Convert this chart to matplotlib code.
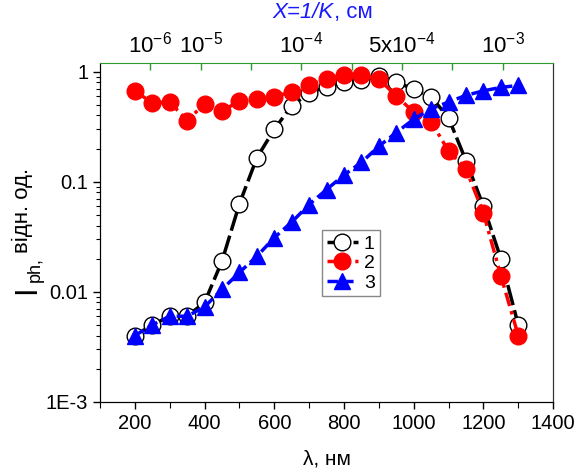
import matplotlib
matplotlib.use('Agg')
import matplotlib.pyplot as plt
from matplotlib.ticker import FixedLocator, NullFormatter, LogLocator, MultipleLocator

plt.rcParams['font.family'] = ['Liberation Sans', 'DejaVu Sans']
plt.rcParams['mathtext.fontset'] = 'custom'
plt.rcParams['mathtext.rm'] = 'Liberation Sans'
plt.rcParams['mathtext.it'] = 'Liberation Sans:italic'

# wavelength, nm
wavelength = [200, 250, 300, 350, 400, 450, 500, 550, 600, 650, 700, 750,
              800, 850, 900, 950, 1000, 1050, 1100, 1150, 1200, 1250, 1300]

curve1 = [0.004, 0.005, 0.006, 0.006, 0.008, 0.019, 0.063, 0.165, 0.30, 0.49,
          0.64, 0.73, 0.80, 0.84, 0.92, 0.81, 0.69, 0.59, 0.38, 0.155, 0.06,
          0.02, 0.005]
curve2 = [0.67, 0.52, 0.53, 0.36, 0.51, 0.44, 0.54, 0.56, 0.59, 0.66, 0.76,
          0.85, 0.94, 0.93, 0.86, 0.60, 0.43, 0.35, 0.19, 0.13, 0.052, 0.014,
          0.004]
curve3 = [0.004, 0.005, 0.006, 0.006, 0.0073, 0.0105, 0.015, 0.021, 0.031,
          0.043, 0.062, 0.085, 0.115, 0.15, 0.21, 0.28, 0.37, 0.46, 0.53, 0.61,
          0.67, 0.72, 0.75]

# top axis (absorption depth), positions on its own 0..9 scale
top_ticks = [1, 2, 3, 4, 5, 6, 7, 8]
top_labels = [r'$\mathregular{10^{-6}}$', r'$\mathregular{10^{-5}}$', '',
              r'$\mathregular{10^{-4}}$', '', r'$\mathregular{5x10^{-4}}$', '',
              r'$\mathregular{10^{-3}}$']

fig = plt.figure(figsize=(5.78, 4.70), dpi=100)
ax = fig.add_axes([0.173, 0.145, 0.784, 0.721])

ax.plot(wavelength, curve1, color='black', lw=2.5, ls=(0, (6, 1.5)),
        marker='o', ms=12, mfc='white', mec='black', mew=1.0, label='1', zorder=2)
ax.plot(wavelength, curve2, color='red', lw=2.5, ls=(0, (4, 1.5, 1, 1.5)),
        marker='o', ms=12, mfc='red', mec='red', label='2', zorder=3)
ax.plot(wavelength, curve3, color='blue', lw=2.5, ls=(0, (3, 1.5)),
        marker='^', ms=12, mfc='blue', mec='blue', label='3', zorder=4)

ax.set_yscale('log')
ax.set_ylim(1e-3, 1.2)
ax.set_xlim(100, 1400)
ax.xaxis.set_major_locator(MultipleLocator(200))
ax.xaxis.set_minor_locator(MultipleLocator(100))
ax.yaxis.set_major_locator(FixedLocator([1e-3, 1e-2, 1e-1, 1]))
ax.set_yticklabels(['1E-3', '0.01', '0.1', '1'])
ax.yaxis.set_minor_locator(LogLocator(base=10, subs=range(2, 10)))
ax.yaxis.set_minor_formatter(NullFormatter())
ax.set_xticks([200, 400, 600, 800, 1000, 1200, 1400])

ax.tick_params(axis='both', which='major', labelsize=14.5, direction='out', length=5, width=1)
ax.tick_params(axis='y', which='minor', direction='out', length=3, width=0.8)
ax.tick_params(axis='x', which='minor', direction='out', length=4, width=0.8)
ax.tick_params(top=False, right=False, which='both')

ax.set_xlabel('λ, нм', fontsize=15, labelpad=12)

# y label pieces: big "I", small subscript "ph,", then the units
fig.text(0.021, 0.3745, 'I', fontsize=22, rotation=90, ha='left', va='bottom')
fig.text(0.047, 0.400, 'ph,', fontsize=13, rotation=90, ha='left', va='bottom')
fig.text(0.038, 0.462, 'відн. од.', fontsize=16, rotation=90,
         ha='center', va='bottom')

ax.spines['right'].set_color('#333333')
ax.spines['top'].set_visible(False)

ax2 = ax.twiny()
ax2.set_xlim(0, 9)
ax2.set_xticks(top_ticks)
ax2.set_xticklabels(top_labels)
ax2.tick_params(axis='x', direction='in', length=5, width=1, color='#2e9a2e',
                labelsize=16, pad=4)
ax2.spines['top'].set_color('#2e9a2e')
ax2.spines['right'].set_color('#333333')

fig.text(0.578, 0.974, 'X=1/K', color='#1a1aff', fontsize=16, style='italic',
         ha='right', va='center')
fig.text(0.578, 0.974, ', см', color='#1a1aff', fontsize=16,
         ha='left', va='center')

leg = ax.legend(loc='upper left', bbox_to_anchor=(0.49, 0.507), fontsize=14,
                handlelength=1.6, handletextpad=0.3, borderpad=0.25,
                labelspacing=0.1, fancybox=False, edgecolor='#888888',
                framealpha=1, borderaxespad=0)
leg.get_frame().set_linewidth(1.0)

fig.savefig('out.png', dpi=100)
